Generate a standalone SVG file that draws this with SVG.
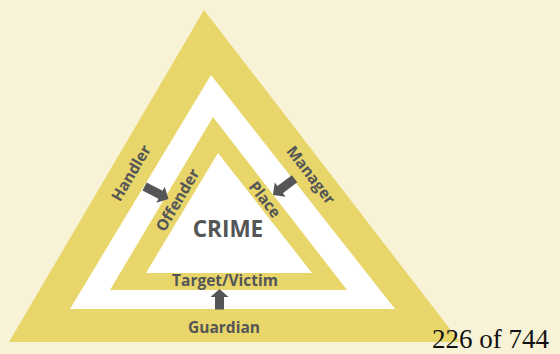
<svg xmlns="http://www.w3.org/2000/svg" width="560" height="354" viewBox="0 0 560 354">
<style>
.band{fill:#e8d66a}
.hole{fill:#ffffff}
.lbl{font-family:"Open Sans","Liberation Sans",sans-serif;font-weight:bold;font-size:15.5px;fill:#545557;text-anchor:middle}
.arrow{fill:#545557}
</style>
<rect width="560" height="354" fill="#f8f3d6"/>
<g id="guardian-layer">
<polygon class="band" points="204,10 460,342 9,342"/>
<polygon class="hole" points="211,75 395,309 70,309"/>
</g>
<g id="offender-layer">
<polygon class="band" points="213,117 347,290 110,290"/>
<polygon class="hole" points="218,153 312,273 146,273"/>
</g>
<g id="crime"><text class="lbl" x="228" y="237" style="font-size:22.5px">CRIME</text></g>
<g id="handler"><text class="lbl" transform="translate(131,173) rotate(-59.6)" y="5.5">Handler</text></g>
<g id="manager"><text class="lbl" transform="translate(311,175) rotate(52.4)" y="5.5">Manager</text></g>
<g id="guardian"><text class="lbl" x="224" y="333">Guardian</text></g>
<g id="offender"><text class="lbl" transform="translate(177.5,200) rotate(-59.4)" y="5.5">Offender</text></g>
<g id="place"><text class="lbl" transform="translate(265,199.5) rotate(52.2)" y="5.5">Place</text></g>
<g id="target"><text class="lbl" x="225" y="286">Target/Victim</text></g>
<g id="connectors">
<path class="arrow" transform="translate(168.5,199) rotate(27.5)" d="M0,0 L-9,-9 L-9,-4.5 L-27,-4.5 L-27,4.5 L-9,4.5 L-9,9 Z"/>
<path class="arrow" transform="translate(273,195) rotate(143)" d="M0,0 L-9,-9 L-9,-4.5 L-27,-4.5 L-27,4.5 L-9,4.5 L-9,9 Z"/>
<path class="arrow" transform="translate(219.5,289) rotate(-90)" d="M0,0 L-8,-9 L-8,-4.5 L-20.5,-4.5 L-20.5,4.5 L-8,4.5 L-8,9 Z"/>
</g>
<text x="432" y="348" style="font-family:'Liberation Serif',serif;font-size:27px;fill:#111">226 of 744</text>
</svg>
